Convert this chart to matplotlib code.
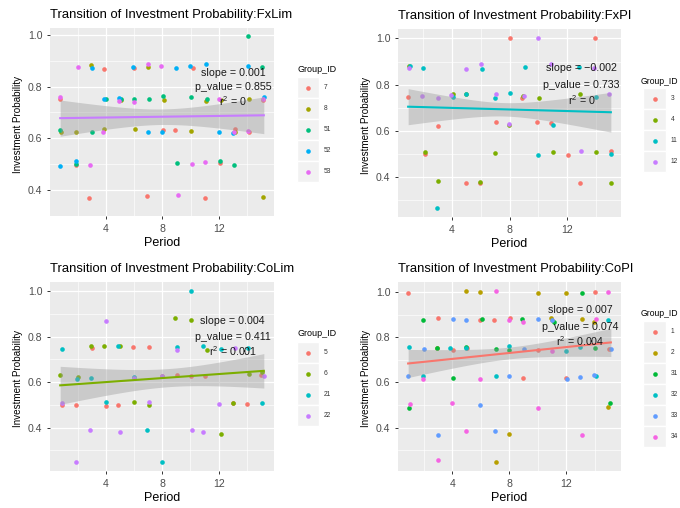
import matplotlib
matplotlib.use('Agg')
import matplotlib.pyplot as plt
import numpy as np
from matplotlib.patches import Rectangle

plt.rcParams['font.family'] = ['Liberation Sans', 'DejaVu Sans']
plt.rcParams['mathtext.fontset'] = 'custom'
plt.rcParams['mathtext.rm'] = 'Liberation Sans'
plt.rcParams['mathtext.it'] = 'Liberation Sans'

# ---------------- data ----------------
# FxLim
fxlim_ids = ['7', '8', '51', '52', '53']
fxlim_period = [
    [0.78, 1.87, 2.79, 3.88, 5.99, 6.91, 8.05, 8.90, 10.15, 11.03, 12.05, 13.16, 14.11, 15.12],
    [0.85, 1.87, 2.91, 3.88, 5.04, 6.04, 6.96, 8.12, 10.04, 11.10, 12.14, 13.11, 14.11, 15.12],
    [0.78, 1.87, 3.03, 4.00, 5.04, 5.96, 7.05, 8.07, 9.04, 10.01, 11.12, 12.05, 13.04, 14.04, 15.05],
    [0.78, 1.87, 3.03, 3.88, 4.92, 5.89, 6.96, 7.93, 8.99, 9.96, 11.08, 12.00, 12.97, 14.04, 15.17],
    [0.76, 1.99, 2.86, 3.81, 4.92, 5.96, 6.98, 7.91, 9.09, 10.06, 10.98, 11.98, 13.04, 14.08, 15.12],
]
fxlim_prob = [
    [0.751, 0.497, 0.371, 0.868, 0.871, 0.376, 0.632, 0.632, 0.872, 0.371, 0.505, 0.635, 0.626, 0.747],
    [0.626, 0.626, 0.883, 0.636, 0.750, 0.636, 0.877, 0.748, 0.630, 0.744, 0.747, 0.623, 0.751, 0.373],
    [0.632, 0.502, 0.626, 0.753, 0.753, 0.753, 0.752, 0.763, 0.504, 0.759, 0.753, 0.511, 0.498, 0.995, 0.874],
    [0.494, 0.511, 0.872, 0.753, 0.757, 0.874, 0.623, 0.626, 0.872, 0.881, 0.886, 0.626, 0.620, 0.880, 0.758],
    [0.758, 0.874, 0.496, 0.623, 0.745, 0.741, 0.886, 0.878, 0.382, 0.499, 0.510, 0.753, 0.626, 0.630, 0.753],
]
fxlim_fit = [0.678, 0.689]          # fitted value at first / last period
fxlim_band = [0.070, 0.030, 0.071]  # CI half-width: left, narrowest, right
fxlim_stats = ['slope = 0.001', 'p_value = 0.855', '0']
fxlim_stat_y = [0.852, 0.800, 0.745]

# FxPI
fxpi_ids = ['3', '4', '11', '12']
fxpi_period = [
    [0.95, 2.15, 3.05, 4.97, 5.94, 7.05, 8.05, 8.88, 9.90, 10.87, 12.05, 12.86, 13.90, 15.03],
    [0.99, 2.15, 3.05, 4.07, 4.97, 5.94, 6.98, 7.98, 8.90, 10.03, 11.00, 12.86, 13.97, 15.03],
    [1.11, 1.99, 2.98, 4.07, 4.97, 6.10, 6.96, 8.02, 9.04, 9.97, 11.00, 12.81, 14.01, 15.03],
    [1.04, 1.94, 3.01, 3.93, 4.95, 6.01, 7.05, 7.98, 8.97, 9.97, 10.87, 12.95, 13.83, 14.89],
]
fxpi_prob = [
    [0.747, 0.500, 0.622, 0.377, 0.374, 0.638, 1.000, 0.744, 0.638, 0.633, 0.496, 0.376, 1.000, 0.513],
    [0.880, 0.510, 0.384, 0.758, 0.762, 0.380, 0.506, 0.626, 0.751, 0.744, 0.509, 0.759, 0.509, 0.373],
    [0.880, 0.873, 0.265, 0.748, 0.759, 0.868, 0.744, 0.764, 0.875, 0.497, 0.626, 0.875, 0.747, 0.502],
    [0.873, 0.751, 0.744, 0.755, 0.868, 0.890, 0.758, 0.631, 0.751, 1.004, 0.890, 0.513, 0.874, 0.762],
]
fxpi_fit = [0.705, 0.681]
fxpi_band = [0.078, 0.029, 0.086]
fxpi_stats = ['slope = \u22120.002', 'p_value = 0.733', '0']
fxpi_stat_y = [0.871, 0.800, 0.735]

# CoLim
colim_ids = ['5', '6', '21', '22']
colim_period = [
    [0.88, 1.87, 3.03, 4.02, 4.88, 5.89, 7.05, 8.00, 9.02, 10.01, 11.03, 13.04, 14.01, 15.01],
    [0.76, 2.01, 2.91, 3.88, 4.99, 5.99, 7.05, 8.92, 10.01, 11.15, 12.14, 13.04, 14.18, 15.08],
    [0.92, 1.94, 2.93, 4.02, 4.88, 5.99, 6.89, 8.00, 9.02, 10.01, 10.91, 12.14, 14.11, 15.05],
    [0.88, 1.87, 2.84, 4.02, 4.99, 5.96, 7.05, 8.00, 9.02, 10.08, 10.91, 12.02, 13.14, 15.20],
]
colim_prob = [
    [0.500, 0.500, 0.751, 0.497, 0.500, 0.757, 0.756, 0.628, 0.632, 0.628, 0.629, 0.506, 0.503, 0.632],
    [0.632, 0.625, 0.760, 0.760, 0.760, 0.512, 0.500, 0.885, 0.874, 0.744, 0.371, 0.510, 0.637, 0.643],
    [0.747, 0.616, 0.619, 0.512, 0.760, 0.624, 0.387, 0.246, 0.756, 1.004, 0.760, 0.747, 0.751, 0.509],
    [0.506, 0.246, 0.387, 0.869, 0.382, 0.619, 0.512, 0.626, 0.744, 0.387, 0.378, 0.503, 0.750, 0.628],
]
colim_fit = [0.586, 0.650]
colim_band = [0.084, 0.040, 0.076]
colim_stats = ['slope = 0.004', 'p_value = 0.411', '0.001']
colim_stat_y = [0.868, 0.799, 0.735]

# CoPI
copi_ids = ['1', '2', '31', '32', '33', '34']
copi_period = [
    [0.90, 3.02, 4.07, 5.03, 5.91, 6.89, 8.08, 8.94, 10.04, 11.02, 12.00, 14.00, 14.98],
    [2.93, 4.98, 5.91, 7.03, 7.99, 10.04, 10.92, 11.95, 13.07, 13.93, 14.93],
    [0.95, 1.95, 2.95, 4.02, 4.98, 6.07, 7.03, 7.96, 8.92, 11.11, 13.09, 14.00, 15.03],
    [0.95, 1.93, 3.86, 4.98, 7.03, 7.99, 12.00, 12.97, 14.05, 14.93],
    [0.90, 2.02, 2.97, 4.07, 4.98, 5.93, 6.96, 7.96, 9.03, 10.01, 10.99, 12.07, 12.97, 13.93, 15.12],
    [1.02, 1.93, 3.00, 3.95, 4.98, 5.93, 7.03, 7.96, 8.94, 10.04, 11.00, 13.07, 14.07, 14.93],
]
copi_prob = [
    [0.994, 0.886, 0.745, 0.751, 0.877, 0.877, 0.886, 0.622, 0.745, 0.874, 0.622, 1.000, 0.748],
    [0.751, 1.006, 1.000, 0.247, 0.372, 0.997, 0.887, 0.994, 0.881, 0.869, 0.492],
    [0.488, 0.877, 0.754, 0.622, 0.756, 0.881, 0.750, 0.745, 0.881, 0.869, 0.994, 0.754, 0.510],
    [0.756, 0.629, 0.752, 0.754, 0.629, 0.761, 0.740, 0.758, 0.629, 0.874],
    [0.629, 0.748, 0.368, 0.881, 0.874, 0.501, 0.384, 0.629, 0.748, 0.881, 0.878, 0.617, 0.624, 0.633, 0.749],
    [0.504, 0.617, 0.256, 0.510, 0.384, 0.617, 1.006, 0.874, 0.869, 0.488, 0.740, 0.369, 0.881, 1.000],
]
copi_fit = [0.684, 0.777]
copi_band = [0.062, 0.026, 0.062]
copi_stats = ['slope = 0.007', 'p_value = 0.074', '0.004']
copi_stat_y = [0.921, 0.847, 0.784]

x_ticks = [4, 8, 12]
y_ticks = [0.4, 0.6, 0.8, 1.0]
y_tick_labels = ['0.4', '0.6', '0.8', '1.0']

# ---------------- styling ----------------
pal4 = ['#F8766D', '#7CAE00', '#00BFC4', '#C77CFF']
pal5 = ['#F8766D', '#A3A500', '#00BF7D', '#00B0F6', '#E76BF3']
pal6 = ['#F8766D', '#B79F00', '#00BA38', '#00BFC4', '#619CFF', '#F564E3']

W, H = 680, 508
fig = plt.figure(figsize=(W / 100, H / 100), dpi=100)


def rect(x0, y0, x1, y1):
    return [x0 / W, 1 - y1 / H, (x1 - x0) / W, (y1 - y0) / H]


overlay = fig.add_axes([0, 0, 1, 1], zorder=10)
overlay.set_xlim(0, W)
overlay.set_ylim(H, 0)
overlay.axis('off')

PT_SIZE = 11


def band_halfwidth(x, xl, xr, hw):
    hl, hm, hr = hw
    rl = np.sqrt(max(hl ** 2 - hm ** 2, 1e-9))
    rr = np.sqrt(max(hr ** 2 - hm ** 2, 1e-9))
    xbar = xl + (xr - xl) * rl / (rl + rr)
    b = (rl / (xbar - xl)) ** 2
    return np.sqrt(hm ** 2 + b * (x - xbar) ** 2)


def panel(box, name, ids, periods, probs, colors, fit, band, line_color,
          stats, stat_y, ylab_x, leg):
    x0, y0, x1, y1 = box
    ax = fig.add_axes(rect(x0, y0, x1, y1))
    ax.set_facecolor('#EBEBEB')
    for s in ax.spines.values():
        s.set_visible(False)

    allx = np.concatenate([np.array(p) for p in periods])
    ally = np.concatenate([np.array(p) for p in probs])
    xr = allx.max() - allx.min()
    yr = ally.max() - ally.min()
    ax.set_xlim(allx.min() - 0.05 * xr, allx.max() + 0.05 * xr)
    ax.set_ylim(ally.min() - 0.05 * yr, ally.max() + 0.05 * yr)

    for per, pr, c in zip(periods, probs, colors):
        ax.scatter(per, pr, s=PT_SIZE, color=c, linewidths=0, zorder=3)

    # fitted line with confidence band
    xl, xh = allx.min(), allx.max()
    xs = np.linspace(xl, xh, 100)
    ys = fit[0] + (fit[1] - fit[0]) * (xs - xl) / (xh - xl)
    hw = band_halfwidth(xs, xl, xh, band)
    ax.fill_between(xs, ys - hw, ys + hw, color='#999999', alpha=0.4,
                    linewidth=0, zorder=4)
    ax.plot(xs, ys, color=line_color, lw=1.5, zorder=5)

    # annotations
    ax.text(13, stat_y[0], stats[0], ha='center', va='center', fontsize=7.7,
            color='#1a1a1a', zorder=6)
    ax.text(13, stat_y[1], stats[1], ha='center', va='center', fontsize=7.7,
            color='#1a1a1a', zorder=6)
    ax.text(13, stat_y[2], r'$\mathregular{r^2}$ = ' + stats[2], ha='center',
            va='center', fontsize=7.7, color='#1a1a1a', zorder=6)

    # grid
    ax.set_xticks(x_ticks)
    ax.set_xticks([2, 6, 10, 14], minor=True)
    ax.set_yticks(y_ticks)
    ax.set_yticklabels(y_tick_labels)
    ax.set_yticks([0.3, 0.5, 0.7, 0.9], minor=True)
    ax.grid(which='major', color='white', lw=0.9)
    ax.grid(which='minor', color='white', lw=0.45)
    ax.set_axisbelow(True)
    ax.tick_params(which='major', length=2.5, width=0.7, color='#333333',
                   labelsize=7.6, labelcolor='#4D4D4D', pad=3)
    ax.tick_params(which='minor', length=0)

    # titles and labels
    fig.text(x0 / W, 1 - (y0 - 13) / H, 'Transition of Investment Probability:' + name,
             ha='left', va='center', fontsize=9.4, color='black')
    fig.text((x0 + x1) / 2 / W, 1 - (y1 + 27) / H, 'Period', ha='center',
             va='center', fontsize=9, color='black')
    fig.text(ylab_x / W, 1 - ((y0 + y1) / 2 + 2) / H, 'Investment Probability',
             ha='center', va='center', rotation=90, fontsize=7.1, color='black')

    # legend
    tx, ty, tfs, kx0, kx1, ky0, kh, lx = leg
    overlay.text(tx, ty, 'Group_ID', ha='left', va='center', fontsize=tfs,
                 color='black')
    for i, (gid, c) in enumerate(zip(ids, colors)):
        yk = ky0 + i * kh
        overlay.add_patch(Rectangle((kx0, yk), kx1 - kx0, kh, facecolor='#F2F2F2',
                                    edgecolor='white', lw=1))
        overlay.scatter([(kx0 + kx1) / 2], [yk + kh / 2], s=PT_SIZE, color=c,
                        linewidths=0, zorder=12)
        overlay.text(lx, yk + kh / 2, gid, ha='left', va='center', fontsize=4.8,
                     color='#333333')
    return ax


panel((50, 28, 274, 216), 'FxLim', fxlim_ids, fxlim_period, fxlim_prob, pal5,
      fxlim_fit, fxlim_band, '#C77CFF', fxlim_stats, fxlim_stat_y, 18,
      (297, 70, 6.5, 297, 319, 77, 21, 324))
panel((398, 29, 621, 217), 'FxPI', fxpi_ids, fxpi_period, fxpi_prob, pal4,
      fxpi_fit, fxpi_band, '#00BFC4', fxpi_stats, fxpi_stat_y, 366,
      (641, 81, 6.2, 643, 666, 88, 21, 671))
panel((50, 282, 274, 471), 'CoLim', colim_ids, colim_period, colim_prob, pal4,
      colim_fit, colim_band, '#7CAE00', colim_stats, colim_stat_y, 18,
      (297, 334, 6.5, 297, 319, 342, 21, 324))
panel((398, 282, 621, 471), 'CoPI', copi_ids, copi_period, copi_prob, pal6,
      copi_fit, copi_band, '#F8766D', copi_stats, copi_stat_y, 366,
      (641, 313, 6.2, 643, 666, 321, 21, 671))

fig.savefig('out.png', dpi=100, facecolor='white')
